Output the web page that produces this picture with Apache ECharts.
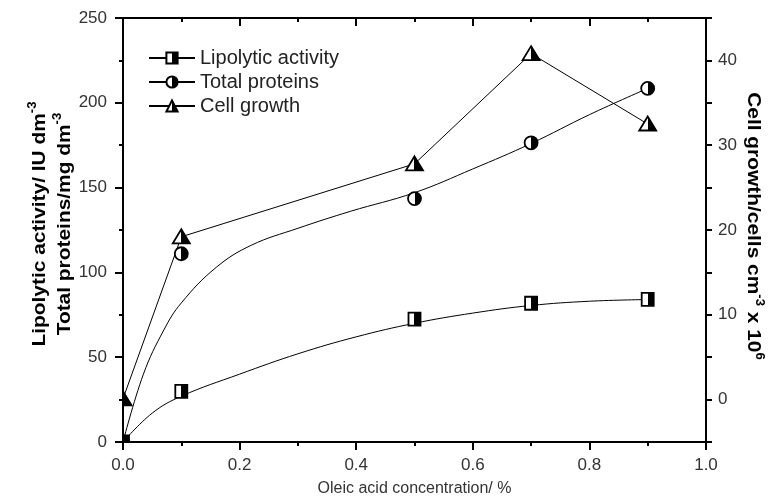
<!DOCTYPE html>
<html>
<head>
<meta charset="utf-8">
<script src="https://cdn.jsdelivr.net/npm/echarts@6/dist/echarts.min.js"></script>
<style>html,body{margin:0;padding:0;background:#fff;}#chart{width:772px;height:502px;}</style>
</head>
<body>
<div id="chart"></div>
<script>
// Measured points
const xPoints = [0, 0.1, 0.5, 0.7, 0.9];
const lipolytic = [0, 29.8, 72.4, 81.8, 84.1];
const proteins = [0, 111, 143.5, 176.4, 208.5];
const cellGrowth = [0.1, 19.2, 27.8, 40.8, 32.5];
// Fitted curves
const lipoFitX = [0, 0.05, 0.1, 0.2, 0.3, 0.4, 0.5, 0.6, 0.7, 0.8, 0.9];
const lipoFitY = [0, 17, 27, 40, 52, 62, 70, 76, 80.5, 83, 84];
const protFitX = [0, 0.035, 0.07, 0.1, 0.16, 0.22, 0.3, 0.39, 0.5, 0.6, 0.7, 0.8, 0.9];
const protFitY = [0, 40, 66, 82, 103, 116, 126, 136, 147, 161, 176, 193, 208.5];
const seriesNames = ['Lipolytic activity', 'Total proteins', 'Cell growth'];
const xTitle = 'Oleic acid concentration/ %';
const leftTitle = '{t|Lipolytic activity/ IU dm}{s|-3}\n{t|Total proteins/mg dm}{s|-3}';
const rightTitle = '{t|Cell growth/cells cm}{s|-3}{t| x 10}{s|6}';

const zip = (xs, ys) => xs.map((x, i) => [x, ys[i]]);
const stops = [{offset:0,color:'#fff'},{offset:0.5,color:'#fff'},{offset:0.5,color:'#000'},{offset:1,color:'#000'}];
const half = {type:'linear', x:0, y:0, x2:1, y2:0, colorStops:stops};
const halfGrad = () => new echarts.graphic.LinearGradient(0, 0, 1, 0, stops);
const font = 'Liberation Sans, Arial, sans-serif';
const symItem = {color: half, borderColor:'#000', borderWidth:1.8};
const lineSt = {color:'#000', width:1};
const mStyle = () => ({fill: halfGrad(), stroke:'#000', lineWidth:1.8});

const shapes = {
  square: p => ({type:'rect', shape:{x:p[0]-6, y:p[1]-6.5, width:12, height:13}, style:mStyle()}),
  circle: p => ({type:'circle', shape:{cx:p[0], cy:p[1], r:6.5}, style:mStyle()}),
  triangle: p => ({type:'polygon', shape:{points:[[p[0], p[1]-7.5],[p[0]+8.5, p[1]+6.5],[p[0]-8.5, p[1]+6.5]]}, style:mStyle()})
};
function markers(name, yIdx, xs, ys, kind) {
  return {name, type:'custom', yAxisIndex:yIdx, clip:true, z:5, data:zip(xs, ys),
    renderItem:(params, api) => shapes[kind](api.coord([api.value(0), api.value(1)]))};
}

const titleRich = {
  t:{font:'bold 19px ' + font, fill:'#000', lineHeight:25},
  s:{font:'bold 12px ' + font, fill:'#000', verticalAlign:'top', lineHeight:25}
};

const chart = echarts.init(document.getElementById('chart'), null, {renderer:'canvas'});
chart.setOption({
  animation:false,
  backgroundColor:'#fff',
  textStyle:{fontFamily:font},
  grid:{left:123, right:66, top:18, bottom:56},
  legend:{
    orient:'vertical', left:143, top:43, itemWidth:46, itemHeight:14, itemGap:4,
    data: seriesNames,
    textStyle:{fontSize:20, color:'#222', fontFamily:font}
  },
  graphic:[
    {type:'text', x:52, y:224, rotation:Math.PI/2, scaleX:1.1, silent:true,
     style:{text:leftTitle, rich:titleRich, font:'bold 19px ' + font, fill:'#000',
            align:'center', verticalAlign:'middle', textAlign:'center', textVerticalAlign:'middle'}},
    {type:'text', x:753, y:226, rotation:-Math.PI/2, scaleX:1.1, silent:true,
     style:{text:rightTitle, rich:titleRich, font:'bold 19px ' + font, fill:'#000',
            align:'center', verticalAlign:'middle', textAlign:'center', textVerticalAlign:'middle'}}
  ],
  xAxis:[{
    type:'value', min:0, max:1, interval:0.2, position:'bottom',
    name:xTitle, nameLocation:'middle', nameGap:39,
    nameTextStyle:{fontSize:16, color:'#333'},
    axisLine:{onZero:false, lineStyle:{color:'#000', width:2}},
    axisTick:{inside:false, length:8, lineStyle:{color:'#000', width:2}},
    minorTick:{show:true, splitNumber:2, length:4, lineStyle:{color:'#000', width:2}},
    axisLabel:{fontSize:17, color:'#333', margin:15, formatter:v=>v.toFixed(1)},
    splitLine:{show:false}
  },{
    type:'value', min:0, max:1, interval:0.2, position:'top',
    axisLine:{onZero:false, lineStyle:{color:'#000', width:2}},
    axisTick:{inside:true, length:8, lineStyle:{color:'#000', width:2}},
    minorTick:{show:true, splitNumber:2, length:4, lineStyle:{color:'#000', width:2}},
    axisLabel:{show:false}, splitLine:{show:false}
  }],
  yAxis:[{
    type:'value', min:0, max:250, interval:50, position:'left',
    axisLine:{onZero:false, lineStyle:{color:'#000', width:2}},
    axisTick:{inside:false, length:8, lineStyle:{color:'#000', width:2}},
    minorTick:{show:true, splitNumber:2, length:4, lineStyle:{color:'#000', width:2}},
    axisLabel:{fontSize:17, color:'#333', margin:16},
    splitLine:{show:false}
  },{
    type:'value', min:-5, max:45, interval:5, position:'right',
    axisLine:{onZero:false, lineStyle:{color:'#000', width:2}},
    axisTick:{inside:false, length:6, lineStyle:{color:'#000', width:2}},
    axisLabel:{fontSize:17, color:'#333', margin:12, formatter:v=> (v % 10 === 0 ? String(v) : '')},
    splitLine:{show:false}
  }],
  series:[
    {name:seriesNames[0], type:'line', smooth:0.4, data:zip(lipoFitX, lipoFitY),
     showSymbol:false, symbol:'rect', symbolSize:[11,13], itemStyle:symItem, lineStyle:lineSt, z:2},
    {name:seriesNames[1], type:'line', smooth:0.4, data:zip(protFitX, protFitY),
     showSymbol:false, symbol:'circle', symbolSize:13, itemStyle:symItem, lineStyle:lineSt, z:2},
    {name:seriesNames[2], type:'line', yAxisIndex:1, data:zip(xPoints, cellGrowth),
     showSymbol:false, symbol:'triangle', symbolSize:[17,14], itemStyle:symItem, lineStyle:lineSt, z:3},
    markers(seriesNames[0], 0, xPoints, lipolytic, 'square'),
    markers(seriesNames[1], 0, xPoints, proteins, 'circle'),
    markers(seriesNames[2], 1, xPoints, cellGrowth, 'triangle')
  ]
});
</script>
</body>
</html>
